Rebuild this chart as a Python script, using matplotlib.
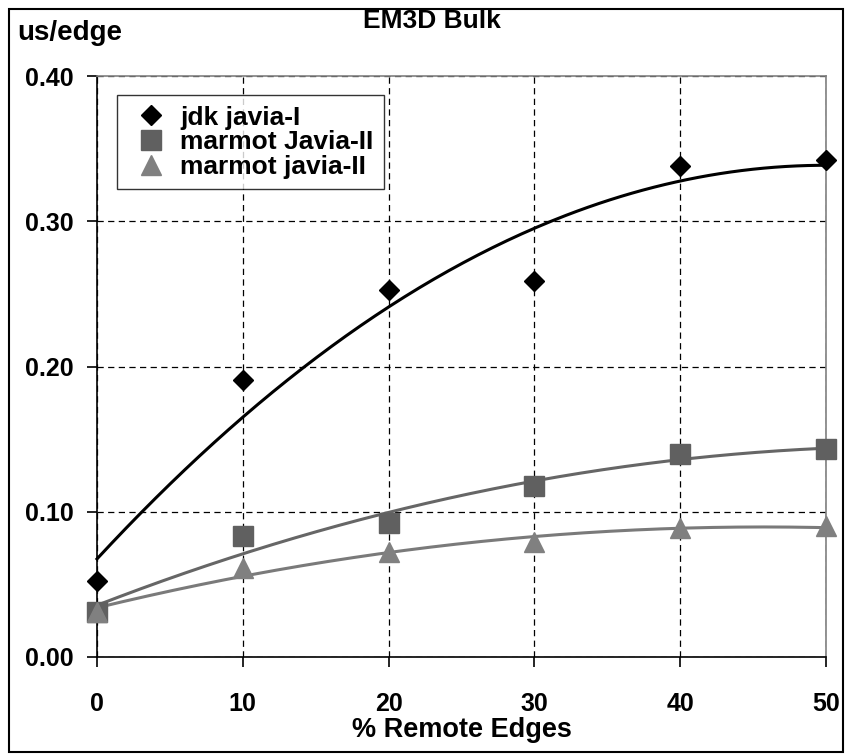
import matplotlib
matplotlib.use("Agg")
import matplotlib.pyplot as plt
from matplotlib.lines import Line2D
from matplotlib.patches import Rectangle
import numpy as np

plt.rcParams['font.family'] = ['Liberation Sans', 'DejaVu Sans']
plt.rcParams['font.weight'] = 'bold'

# ── data ────────────────────────────────────────────────────────────────────
remote_pct = [0, 10, 20, 30, 40, 50]
jdk_javia1 = [0.052, 0.191, 0.253, 0.259, 0.338, 0.342]
marmot_Javia2 = [0.031, 0.083, 0.092, 0.118, 0.140, 0.143]
marmot_javia2 = [0.031, 0.061, 0.072, 0.079, 0.089, 0.090]

labels = ["jdk javia-I", "marmot Javia-II", "marmot javia-II"]
x_ticks = [0, 10, 20, 30, 40, 50]
y_ticks = [0.0, 0.1, 0.2, 0.3, 0.4]

# ── figure ──────────────────────────────────────────────────────────────────
fig = plt.figure(figsize=(8.46, 7.56), dpi=100)
ax = fig.add_axes([97 / 846, 1 - 657 / 756, 729 / 846, 581 / 756])

series = [
    (jdk_javia1, "black", "black", "D", 10.5, 2.2),
    (marmot_Javia2, "#606060", "#666666", "s", 14, 2.2),
    (marmot_javia2, "#808080", "#7a7a7a", "^", 14.5, 2.2),
]

xs = np.array(remote_pct, dtype=float)
xfit = np.linspace(0, 50, 200)
handles = []
for (ys, mcol, lcol, mk, ms, lw), lab in zip(series, labels):
    # quadratic trendline (Excel style)
    coef = np.polyfit(xs, ys, 2)
    ax.plot(xfit, np.polyval(coef, xfit), color=lcol, lw=lw, zorder=3, clip_on=False)
    ax.plot(xs, ys, linestyle="none", marker=mk, ms=ms, color=mcol,
            markeredgecolor=mcol, zorder=4, clip_on=False)
    handles.append(Line2D([], [], linestyle="none", marker=mk, ms=ms, color=mcol,
                          markeredgecolor=mcol, label=lab))

ax.set_xlim(0, 50)
ax.set_ylim(0, 0.40)
ax.set_xticks(x_ticks)
ax.set_yticks(y_ticks)
ax.set_yticklabels([f"{v:.2f}" for v in y_ticks])
ax.tick_params(axis="both", labelsize=18, length=7, width=1.2, direction="out")
ax.tick_params(axis="x", pad=18)
ax.tick_params(axis="y", pad=10)
for lab in ax.get_xticklabels() + ax.get_yticklabels():
    lab.set_fontweight("bold")

ax.set_axisbelow(True)
ax.grid(True, color="black", linestyle=(0, (5, 3.5)), linewidth=0.9)
for s in ("top", "right"):
    ax.spines[s].set_color("#808080")
    ax.spines[s].set_linewidth(1.2)
for s in ("left", "bottom"):
    ax.spines[s].set_color("black")
    ax.spines[s].set_linewidth(1.2)

ax.set_xlabel("% Remote Edges", fontsize=19.5, fontweight="bold", labelpad=1)

leg = ax.legend(handles=handles, loc="upper left", bbox_to_anchor=(0.027, 0.967),
                borderaxespad=0, fontsize=19, frameon=True, fancybox=False,
                handlelength=1.8, handletextpad=0.2, labelspacing=0.02,
                borderpad=0.4)
leg.get_frame().set_edgecolor("black")
leg.get_frame().set_linewidth(1.0)
for t in leg.get_texts():
    t.set_fontweight("bold")

fig.text(432 / 846, 1 - 21 / 756, "EM3D Bulk", fontsize=19, fontweight="bold",
         ha="center", va="center")
fig.text(17 / 846, 1 - 33 / 756, "us/edge", fontsize=20, fontweight="bold",
         ha="left", va="center")

# outer frame
fig.patches.append(Rectangle((9 / 846, 4 / 756), 834 / 846, 743 / 756,
                             transform=fig.transFigure, fill=False,
                             edgecolor="black", linewidth=1.5))

fig.savefig("out.png", dpi=100)
